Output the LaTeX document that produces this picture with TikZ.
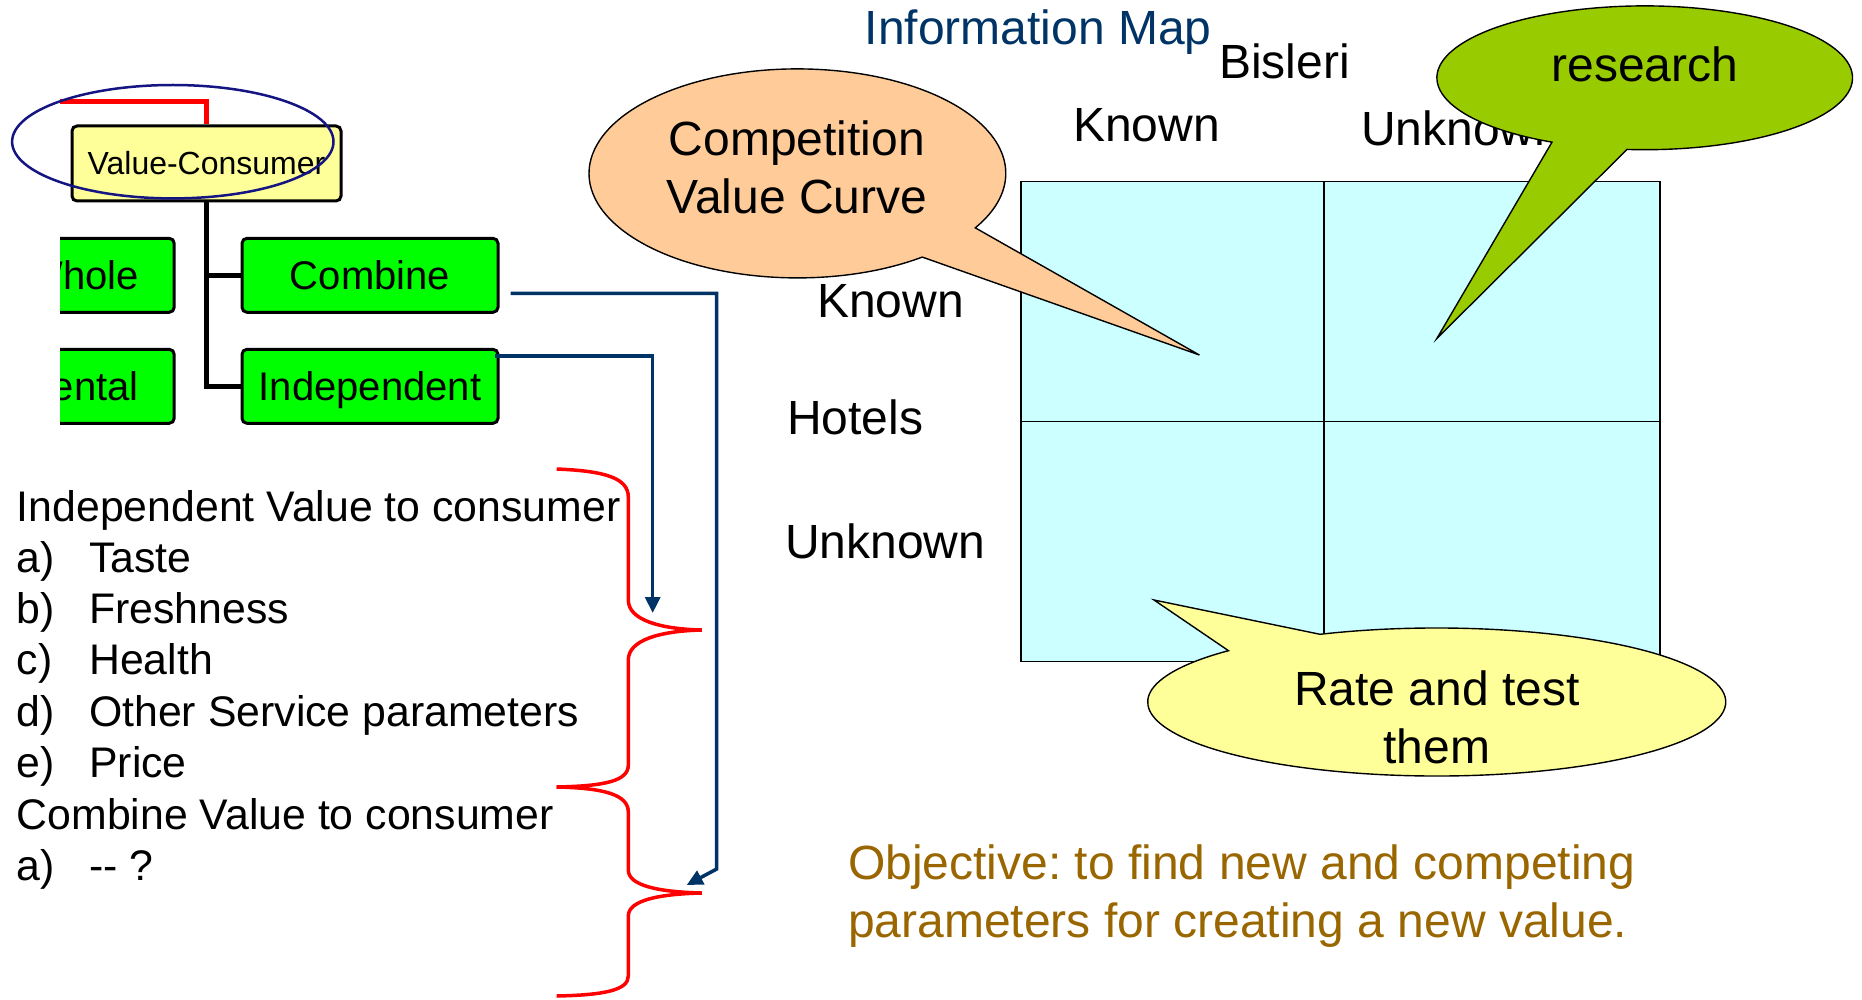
\documentclass[tikz,border=0pt]{standalone}
\usepackage{fontspec}
\setmainfont{Liberation Sans}
\usetikzlibrary{arrows.meta,calc}

\definecolor{linkblue}{RGB}{0,51,102}
\definecolor{ringblue}{RGB}{20,20,130}
\definecolor{vcyellow}{RGB}{255,255,153}
\definecolor{boxgreen}{RGB}{0,255,0}
\definecolor{peach}{RGB}{255,204,153}
\definecolor{leafgreen}{RGB}{153,204,0}
\definecolor{gridcyan}{RGB}{204,255,255}
\definecolor{notegold}{RGB}{153,102,0}

\tikzset{
  treebox/.style={draw=black,line width=3pt,rounded corners=5pt,minimum height=74pt,
    inner sep=0pt,text height=29pt,text depth=0pt,font=\fontsize{40}{40}\selectfont},
  lbl/.style={inner sep=0pt,anchor=base west,font=\fontsize{48}{58}\selectfont},
  listtxt/.style={inner sep=0pt,anchor=base west,font=\fontsize{42.8}{51}\selectfont},
  callout/.style={draw=black,line width=1.4pt},
  link/.style={draw=linkblue,line width=3.5pt,-{Triangle[length=16pt,width=15pt]}},
  brace/.style={draw=red,line width=3.5pt},
}

\begin{document}
\frenchspacing
\begin{tikzpicture}[x=1pt,y=-1pt]
  \useasboundingbox (0,0) rectangle (1862,1000);

  % tree screenshot, cut on its left side
  \begin{scope}
    \clip (60,0) rectangle (560,460);
    \node[treebox,fill=vcyellow,minimum width=269pt,minimum height=75pt,text height=23pt,
      font=\fontsize{32}{32}\selectfont] (vc) at (206.5,163.5) {Value-Consumer};
    \node[treebox,fill=boxgreen,minimum width=256pt] (combine) at (370,275.3) {Combine};
    \node[treebox,fill=boxgreen,minimum width=256pt] (indep) at (370,386.3) {Independent};
    \node[treebox,fill=boxgreen,minimum width=184pt,anchor=east] (whole) at (175.7,275.3) {Whole};
    \node[treebox,fill=boxgreen,minimum width=280pt,anchor=east] (increm) at (175.7,386.3) {Incremental};
    \coordinate (parent) at (40,101.7);
    \draw[red,line width=4.5pt] (vc.north) |- (parent);
    \draw[line width=4.5pt] (vc.south) |- (combine.west);
    \draw[line width=4.5pt] (vc.south) |- (indep.west);
  \end{scope}
  \draw[ringblue,line width=2.5pt] (172.8,141.7) ellipse [x radius=160.7,y radius=56.7];

  % list of values
  \node[listtxt] (indhead) at (16.6,521) {Independent Value to consumer};
  \foreach \tag/\item [count=\i] in {a)/Taste,b)/Freshness,c)/Health,d)/Other Service parameters,e)/Price}{
    \node[listtxt] (itag\i) at (16.6,521+51.3*\i) {\tag};
    \node[listtxt] (item\i) at (89,521+51.3*\i) {\item};
  }
  \node[listtxt] (combhead) at (16.6,829) {Combine Value to consumer};
  \node[listtxt] (ctag) at (16.6,880) {a)};
  \node[listtxt] (citem) at (89,880) {{-}{-} ?};

  % braces
  \draw[brace] (556.7,469) .. controls (605,471) and (628.3,478) .. (628.3,497) -- (628.3,600)
    .. controls (628.3,620) and (660,629) .. (701.7,630) .. controls (660,631) and (628.3,640) .. (628.3,660)
    -- (628.3,765) .. controls (628.3,781) and (605,786) .. (556.7,787);
  \draw[brace] (556.7,787) .. controls (605,788) and (628.3,795) .. (628.3,812) -- (628.3,870)
    .. controls (628.3,886) and (660,892) .. (701.7,893) .. controls (660,894) and (628.3,900) .. (628.3,916)
    -- (628.3,976) .. controls (628.3,990) and (605,995) .. (556.7,996);

  % links from the tree
  \coordinate (tipI) at (652.7,613);
  \coordinate (bendC) at (716.7,869);
  \coordinate (tipC) at (686.7,885);
  \draw[link] ($(indep.north east)+(-5,8)$) -| (tipI);
  \draw[link] ($(combine.east)+(11,18)$) -| (bendC) -- (tipC);

  % information map
  \node[lbl,text=linkblue] (title) at (864.5,45) {Information Map};
  \node[lbl] (bisleri) at (1218.8,78.5) {Bisleri};
  \node[lbl] (colknown) at (1073,142) {Known};
  \node[lbl] (colunknown) at (1361,145.5) {Unknown};
  \node[lbl] (hotels) at (787,434) {Hotels};
  \node[lbl] (rowknown) at (817,317) {Known};
  \node[lbl] (rowunknown) at (785,558) {Unknown};
  \draw[fill=gridcyan,line width=1.4pt] (1021,181.7) rectangle (1660,661.4);
  \draw[line width=1.4pt] (1324,181.7) -- (1324,661.4) (1021,421.6) -- (1660,421.6);

  % callouts
  \coordinate (cvc) at (797.4,173.4);
  \filldraw[callout,fill=peach] ($(cvc)+(53.2:208.4 and 104.5)$)
    arc[start angle=53.2,end angle=391.4,x radius=208.4,y radius=104.5] -- (1199.4,355) -- cycle;
  \node[font=\fontsize{48}{58}\selectfont,align=center,inner sep=0pt] (cvctext) at (797,167.7) {Competition\\Value Curve};

  \coordinate (res) at (1644.7,77.8);
  \filldraw[callout,fill=leafgreen] ($(res)+(116.5:207.8 and 71.9)$)
    arc[start angle=116.5,end angle=454.9,x radius=207.8,y radius=71.9] -- (1436.9,338.4) -- cycle;
  \node[lbl,anchor=base] (restext) at (1644.7,81.7) {research};

  \coordinate (rate) at (1436.7,702);
  \filldraw[callout,fill=vcyellow] ($(rate)+(246.2:289 and 74)$)
    arc[start angle=246.2,end angle=583.9,x radius=289,y radius=74] -- (1154,600) -- cycle;
  \node[font=\fontsize{48}{58}\selectfont,align=center,inner sep=0pt] (ratetext) at (1436.9,717.5) {Rate and test\\them};

  % objective
  \node[lbl,text=notegold,align=left,anchor=north west] (objective) at (848,845)
    {Objective: to find new and competing\\parameters for creating a new value.};
\end{tikzpicture}
\end{document}
